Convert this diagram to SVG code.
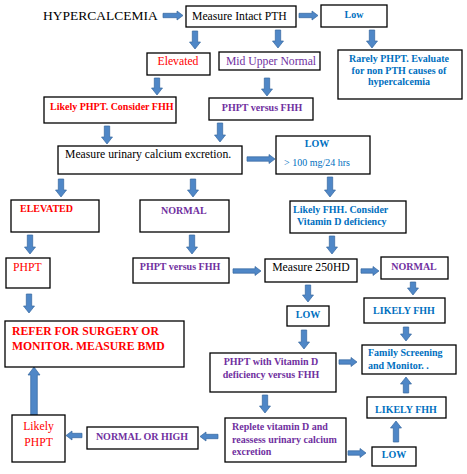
<svg xmlns="http://www.w3.org/2000/svg" width="467" height="474" viewBox="0 0 467 474">
<style>
.bx{fill:#fff;stroke:#000;stroke-width:1.3}
.ar{fill:#4f87c7;stroke:#36679f;stroke-width:0.7}
text{font-family:"Liberation Serif","Times New Roman",serif}
.n{font-size:11.7px;fill:#000}
.b{font-size:10px;font-weight:bold}
.r{fill:#ff0000}
.p{fill:#7030a0}
.u{fill:#0070c0}
.m{text-anchor:middle}
</style>
<rect width="467" height="474" fill="#fff"/>
<g id="connectors">
<path class="ar" d="M163,13.3 v4.4 h14 v2.3 l6,-4.5 l-6,-4.5 v2.3 z"/>
<path class="ar" d="M299,13.3 v4.4 h13 v2.3 l6,-4.5 l-6,-4.5 v2.3 z"/>
<path class="ar" d="M247,156.8 v4.4 h22 v2.3 l6,-4.5 l-6,-4.5 v2.3 z"/>
<path class="ar" d="M233,268.8 v4.4 h22 v2.3 l6,-4.5 l-6,-4.5 v2.3 z"/>
<path class="ar" d="M361,268.8 v4.4 h12 v2.3 l6,-4.5 l-6,-4.5 v2.3 z"/>
<path class="ar" d="M339,359.8 v4.4 h12 v2.3 l6,-4.5 l-6,-4.5 v2.3 z"/>
<path class="ar" d="M348,450.8 v4.4 h12 v2.3 l6,-4.5 l-6,-4.5 v2.3 z"/>
<path class="ar" d="M218,434.3 v4.4 h-12 v2.3 l-6,-4.5 l6,-4.5 v2.3 z"/>
<path class="ar" d="M82,433.3 v4.4 h-10 v2.3 l-6,-4.5 l6,-4.5 v2.3 z"/>
<path class="ar" d="M192.3,31 h5.4 v11 h2.8 l-5.5,7 l-5.5,-7 h2.8 z"/>
<path class="ar" d="M275.3,30 h5.4 v11 h2.8 l-5.5,7 l-5.5,-7 h2.8 z"/>
<path class="ar" d="M369.3,30 h5.4 v11 h2.8 l-5.5,7 l-5.5,-7 h2.8 z"/>
<path class="ar" d="M154.3,78 h5.4 v10 h2.8 l-5.5,7 l-5.5,-7 h2.8 z"/>
<path class="ar" d="M264.3,78 h5.4 v11 h2.8 l-5.5,7 l-5.5,-7 h2.8 z"/>
<path class="ar" d="M104.3,126 h5.4 v11 h2.8 l-5.5,7 l-5.5,-7 h2.8 z"/>
<path class="ar" d="M217.3,123 h5.4 v12 h2.8 l-5.5,7 l-5.5,-7 h2.8 z"/>
<path class="ar" d="M327.3,177 h5.4 v13 h2.8 l-5.5,7 l-5.5,-7 h2.8 z"/>
<path class="ar" d="M329.3,236 h5.4 v11 h2.8 l-5.5,7 l-5.5,-7 h2.8 z"/>
<path class="ar" d="M58.3,179 h5.4 v11 h2.8 l-5.5,7 l-5.5,-7 h2.8 z"/>
<path class="ar" d="M190.3,179 h5.4 v11 h2.8 l-5.5,7 l-5.5,-7 h2.8 z"/>
<path class="ar" d="M27.3,235 h5.4 v12 h2.8 l-5.5,7 l-5.5,-7 h2.8 z"/>
<path class="ar" d="M189.3,235 h5.4 v12 h2.8 l-5.5,7 l-5.5,-7 h2.8 z"/>
<path class="ar" d="M305.3,285 h5.4 v10 h2.8 l-5.5,7 l-5.5,-7 h2.8 z"/>
<path class="ar" d="M410.3,282 h5.4 v6 h2.8 l-5.5,7 l-5.5,-7 h2.8 z"/>
<path class="ar" d="M301.3,330 h5.4 v12 h2.8 l-5.5,7 l-5.5,-7 h2.8 z"/>
<path class="ar" d="M403.3,327 h5.4 v7 h2.8 l-5.5,7 l-5.5,-7 h2.8 z"/>
<path class="ar" d="M262.3,395 h5.4 v11 h2.8 l-5.5,7 l-5.5,-7 h2.8 z"/>
<path class="ar" d="M26.3,294 h5.4 v12 h2.8 l-5.5,7 l-5.5,-7 h2.8 z"/>
<path class="ar" d="M403.3,393 h5.4 v-9 h2.8 l-5.5,-7 l-5.5,7 h2.8 z"/>
<path class="ar" d="M393.3,442 h5.4 v-14 h2.8 l-5.5,-7 l-5.5,7 h2.8 z"/>
<path class="ar" d="M30.7,415 h6.6 v-40 h2.7 l-6,-8 l-6,8 h2.7 z"/>
</g>
<g id="hypercalcemia"><text x="43" y="20" font-size="13.5">HYPERCALCEMIA</text></g>
<g id="pth"><rect class="bx" x="186" y="6" width="110" height="21"/><text class="n" x="192" y="20">Measure Intact PTH</text></g>
<g id="low1"><rect class="bx" x="321" y="5" width="66" height="22"/><text class="b u m" x="354" y="18" font-size="11.5px">Low</text></g>
<g id="elevated1"><rect class="bx" x="147" y="53" width="63" height="22"/><text class="n r m" x="178" y="65">Elevated</text></g>
<g id="midupper"><rect class="bx" x="219" y="52" width="101" height="18"/><text class="n p m" x="271" y="65">Mid Upper Normal</text></g>
<g id="rarely"><rect class="bx" x="338" y="50" width="124" height="49"/>
<text class="b u m" x="399" y="62">Rarely PHPT. Evaluate</text>
<text class="b u m" x="399" y="74">for non PTH causes of</text>
<text class="b u m" x="399" y="85">hypercalcemia</text></g>
<g id="likelyphpt1"><rect class="bx" x="44" y="97" width="132" height="26"/><text class="b r" x="50" y="110">Likely PHPT. Consider FHH</text></g>
<g id="phptfhh1"><rect class="bx" x="209" y="98" width="104" height="22"/><text class="b p m" x="262" y="111">PHPT versus FHH</text></g>
<g id="urinary"><rect class="bx" x="58" y="146" width="184" height="28"/><text class="n" x="65" y="158">Measure urinary calcium excretion.</text></g>
<g id="low2"><rect class="bx" x="276" y="136" width="94" height="38"/>
<text class="b u m" x="317" y="147">LOW</text>
<text class="u" x="284" y="166" font-size="10px">&gt; 100 mg/24 hrs</text></g>
<g id="likelyfhh1"><rect class="bx" x="290" y="201" width="116" height="32"/>
<text class="b u" x="293" y="213">Likely FHH. Consider</text>
<text class="b u" x="297" y="225">Vitamin D deficiency</text></g>
<g id="elevated2"><rect class="bx" x="11" y="200" width="88" height="32"/><text class="b r" x="20" y="212">ELEVATED</text></g>
<g id="normal1"><rect class="bx" x="140" y="200" width="89" height="32"/><text class="b p" x="161" y="214">NORMAL</text></g>
<g id="phpt"><rect class="bx" x="6" y="258" width="44" height="30"/><text class="n r" x="13" y="271">PHPT</text></g>
<g id="phptfhh2"><rect class="bx" x="133" y="258" width="96" height="25"/><text class="b p m" x="180" y="270">PHPT versus FHH</text></g>
<g id="m250"><rect class="bx" x="265" y="259" width="92" height="23"/><text class="n m" x="311" y="271">Measure 250HD</text></g>
<g id="normal2"><rect class="bx" x="381" y="257" width="67" height="22"/><text class="b p m" x="414" y="270">NORMAL</text></g>
<g id="low3"><rect class="bx" x="287" y="306" width="42" height="20"/><text class="b u m" x="308" y="318">LOW</text></g>
<g id="likelyfhh2"><rect class="bx" x="364" y="298" width="81" height="25"/><text class="b u m" x="404" y="314">LIKELY FHH</text></g>
<g id="family"><rect class="bx" x="362" y="345" width="94" height="29"/>
<text class="b u" x="368" y="356">Family Screening</text>
<text class="b u" x="368" y="369">and Monitor. .</text></g>
<g id="phptvitd"><rect class="bx" x="210" y="353" width="126" height="39"/>
<text class="b p m" x="271" y="365">PHPT with Vitamin D</text>
<text class="b p m" x="271" y="378">deficiency versus FHH</text></g>
<g id="likelyfhh3"><rect class="bx" x="367" y="397" width="79" height="21"/><text class="b u m" x="406" y="413">LIKELY FHH</text></g>
<g id="replete"><rect class="bx" x="225" y="418" width="121" height="44"/>
<text class="b p" x="232" y="430">Replete vitamin D and</text>
<text class="b p" x="232" y="443">reassess urinary calcium</text>
<text class="b p" x="232" y="455">excretion</text></g>
<g id="low4"><rect class="bx" x="372" y="447" width="44" height="19"/><text class="b u m" x="394" y="458">LOW</text></g>
<g id="normalhigh"><rect class="bx" x="87" y="427" width="111" height="22"/><text class="b p m" x="142" y="440">NORMAL OR HIGH</text></g>
<g id="likelyphpt2"><rect class="bx" x="12" y="415" width="53" height="47"/>
<text class="n r m" x="38.5" y="430">Likely</text>
<text class="n r m" x="38.5" y="446">PHPT</text></g>
<g id="refer"><rect class="bx" x="5" y="321" width="179" height="46"/>
<text class="r" x="12" y="335" font-size="11.7px" font-weight="bold">REFER FOR SURGERY OR</text>
<text class="r" x="12" y="350" font-size="11.7px" font-weight="bold">MONITOR. MEASURE BMD</text></g>
</svg>
